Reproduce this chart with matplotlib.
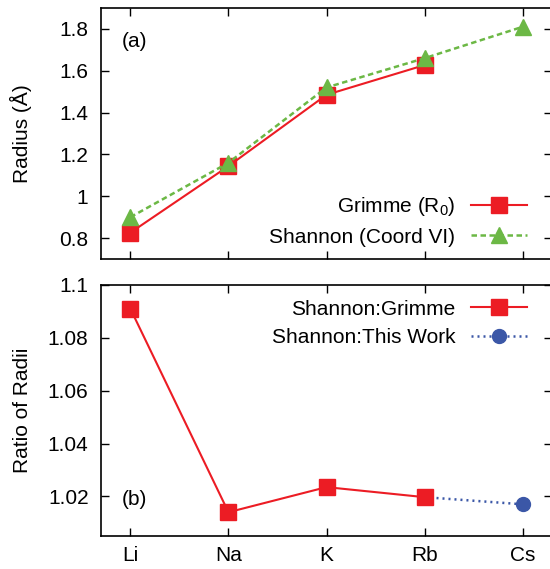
import matplotlib
matplotlib.use('Agg')
import matplotlib.pyplot as plt
import numpy as np

plt.rcParams['font.family'] = ['Liberation Sans', 'DejaVu Sans']
plt.rcParams['mathtext.default'] = 'regular'
plt.rcParams['font.size'] = 15

elements = ['Li', 'Na', 'K', 'Rb', 'Cs']
grimme_r0 = [0.826, 1.144, 1.485, 1.627, np.nan]
shannon_vi = [0.90, 1.16, 1.52, 1.66, 1.81]
ratio_grimme = [1.091, 1.014, 1.0235, 1.0197, np.nan]
ratio_this_work = [np.nan, np.nan, np.nan, 1.0197, 1.017]

red = '#ec1c24'
green = '#6cb845'
blue = '#3b57a7'

x = np.arange(len(elements))

fig = plt.figure(figsize=(5.5, 5.69), dpi=100)
ax1 = fig.add_axes([101 / 550, 1 - 259 / 569, 451 / 550, 251 / 569])
ax2 = fig.add_axes([101 / 550, 1 - 536 / 569, 451 / 550, 251 / 569])

ax1.plot(x, grimme_r0, color=red, lw=1.5, marker='s', ms=11, label='Grimme (R$_0$)')
ax1.plot(x, shannon_vi, color=green, lw=1.8, ls=(0, (2.2, 1.4)), marker='^', ms=12,
         label='Shannon (Coord VI)')
ax1.set_ylim(0.7, 1.9)
ax1.set_yticks([0.8, 1.0, 1.2, 1.4, 1.6, 1.8])
ax1.set_yticklabels(['0.8', '1', '1.2', '1.4', '1.6', '1.8'])
ax1.set_ylabel('Radius (Å)')
ax1.text(0.045, 0.865, '(a)', transform=ax1.transAxes, va='center')
ax1.legend(loc='center right', bbox_to_anchor=(0.945, 0.151), frameon=False,
           markerfirst=False, handlelength=2.7, handletextpad=0.75, borderpad=0,
           borderaxespad=0, labelspacing=0.45)

ax2.plot(x, ratio_this_work, color=blue, lw=1.8, ls=(0, (0.8, 1.6)), marker='o', ms=10,
         label='Shannon:This Work')
ax2.plot(x, ratio_grimme, color=red, lw=1.5, marker='s', ms=11, label='Shannon:Grimme')
ax2.set_ylim(1.005, 1.1)
ax2.set_yticks([1.02, 1.04, 1.06, 1.08, 1.1])
ax2.set_yticklabels(['1.02', '1.04', '1.06', '1.08', '1.1'])
ax2.set_ylabel('Ratio of Radii')
ax2.text(0.045, 0.147, '(b)', transform=ax2.transAxes, va='center')
h, l = ax2.get_legend_handles_labels()
ax2.legend(h[::-1], l[::-1], loc='center right', bbox_to_anchor=(0.945, 0.847), frameon=False,
           markerfirst=False, handlelength=2.7, handletextpad=0.75, borderpad=0,
           borderaxespad=0, labelspacing=0.45)

for ax in (ax1, ax2):
    ax.set_xlim(-0.3, 4.3)
    ax.set_xticks(x)
    ax.tick_params(direction='in', length=6, width=1, top=True, right=True)
    ax.tick_params(axis='y', pad=9)
    ax.tick_params(axis='x', pad=7)
    ax.yaxis.set_label_coords(-0.153, 0.5)
    for s in ax.spines.values():
        s.set_linewidth(1.2)
ax1.set_xticklabels([])
ax2.set_xticklabels(elements)

fig.savefig('out.png', dpi=100)
